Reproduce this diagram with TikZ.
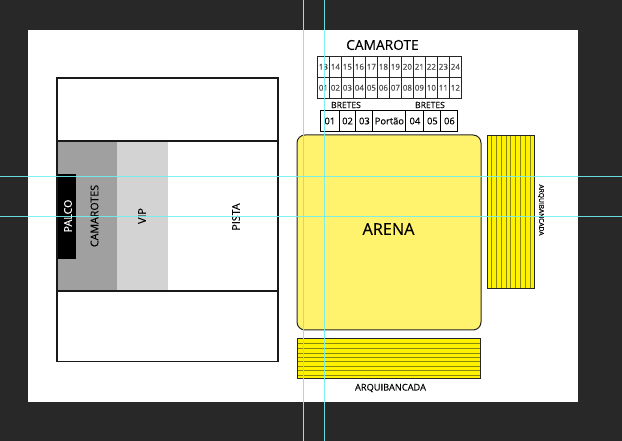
\documentclass[tikz,border=0pt]{standalone}
\usepackage{fontspec}
\setmainfont[FakeBold=0.2]{Open Sans}
\definecolor{bgdark}{HTML}{282828}
\definecolor{arenaY}{HTML}{FFF36E}
\definecolor{standY}{HTML}{FFF200}
\definecolor{guide}{HTML}{70F0F0}
\definecolor{camG}{HTML}{A0A0A0}
\definecolor{vipG}{HTML}{D3D3D3}
\definecolor{bandline}{HTML}{8A8510}
\tikzset{
  px/.style={x=0.75pt,y=-0.75pt},
  outl/.style={draw=black!90,line width=1.1pt},
  cellbox/.style={draw=black!85,line width=0.6pt,minimum width=9pt,minimum height=15.6pt,inner sep=0pt,font=\fontsize{6}{6}\selectfont,text=black!70},
  gatebox/.style={draw=black,line width=0.75pt,minimum height=15.75pt,inner sep=0pt,font=\fontsize{7}{7}\selectfont},
  zone/.style={inner sep=0pt,font=\fontsize{8}{9}\selectfont},
  standline/.style={line width=0.55pt,draw=bandline},
  guideline/.style={draw=guide,line width=0.75pt,opacity=0.9},
}
\begin{document}
\begin{tikzpicture}[px]
\useasboundingbox (0,0) rectangle (622,441);
\fill[bgdark] (0,0) rectangle (622,441);
\fill[white] (28,30) rectangle (578,402);
% left plan
\fill[camG] (57,141) rectangle (117,291);
\fill[vipG] (117,141) rectangle (168,291);
\fill[black] (57,174.5) rectangle (76,259);
\draw[outl] (57,78) rectangle (278,361.5);
\draw[outl] (57,141) -- (278,141);
\draw[outl] (57,291) -- (278,291);
\node[zone,rotate=90,text=white] (palco) at (68,216) {PALCO};
\node[zone,rotate=90] (camarotes) at (94.5,216) {CAMAROTES};
\node[zone,rotate=90] (vip) at (142,216) {VIP};
\node[zone,rotate=90] (pista) at (236,217) {PISTA};
% camarote grid
\node[inner sep=0pt,font=\fontsize{10.3}{11}\selectfont] (title) at (382.5,45) {CAMAROTE};
\foreach \n/\i in {13/0,14/1,15/2,16/3,17/4,18/5,19/6,20/7,21/8,22/9,23/10,24/11}
  \node[cellbox,anchor=north west] (u\n) at ({317+12*\i},56) {\n};
\foreach \n/\i in {01/0,02/1,03/2,04/3,05/4,06/5,07/6,08/7,09/8,10/9,11/10,12/11}
  \node[cellbox,anchor=north west] (l\n) at ({317+12*\i},77) {\n};
% bretes
\node[inner sep=0pt,font=\fontsize{6.4}{7}\selectfont] (bl) at (346,105) {BRETES};
\node[inner sep=0pt,font=\fontsize{6.4}{7}\selectfont] (br) at (430,105) {BRETES};
\node[gatebox,anchor=north west,minimum width=14pt] (b1) at (320,110) {01};
\node[gatebox,anchor=north west,minimum width=12.5pt] (b2) at (338.7,110) {02};
\node[gatebox,anchor=north west,minimum width=12.75pt] (b3) at (355.4,110) {03};
\node[gatebox,anchor=north west,minimum width=24.75pt] (gate) at (372.4,110) {Portão};
\node[gatebox,anchor=north west,minimum width=13.5pt] (b4) at (405.4,110) {04};
\node[gatebox,anchor=north west,minimum width=12.75pt] (b5) at (423.4,110) {05};
\node[gatebox,anchor=north west,minimum width=12.75pt] (b6) at (440.4,110) {06};
% arena
\draw[fill=arenaY,draw=black!85,line width=0.75pt,rounded corners=6pt] (297,135) rectangle (481,330);
\node[inner sep=0pt,font=\fontsize{12.2}{13}\selectfont] (arena) at (388.5,229) {ARENA};
% right stand
\fill[standY] (487,136) rectangle (534,289);
\foreach \x in {491,496,501,506,510.5,515.5,520,525,530}
  \draw[standline] (\x,136) -- (\x,289);
\draw[draw=black!85,line width=0.75pt] (487,136) rectangle (534,289);
\node[inner sep=0pt,rotate=-90,font=\fontsize{5}{6}\selectfont] (arqr) at (541,210) {ARQUIBANCADA};
% bottom stand
\fill[standY] (297,339) rectangle (480,379);
\foreach \y in {343,348,353,357,361,366,370,375}
  \draw[standline] (297,\y) -- (480,\y);
\draw[draw=black!85,line width=0.75pt] (297,339) rectangle (480,379);
\node[inner sep=0pt,font=\fontsize{6.95}{8}\selectfont] (arqb) at (390.5,388) {ARQUIBANCADA};
% guides
\draw[guideline,line width=1.05pt,opacity=1] (303.4,0) -- (303.4,441);
\draw[guideline] (324.5,0) -- (324.5,441);
\draw[guideline] (0,176.5) -- (622,176.5);
\draw[guideline] (0,216.5) -- (622,216.5);
\end{tikzpicture}
\end{document}
